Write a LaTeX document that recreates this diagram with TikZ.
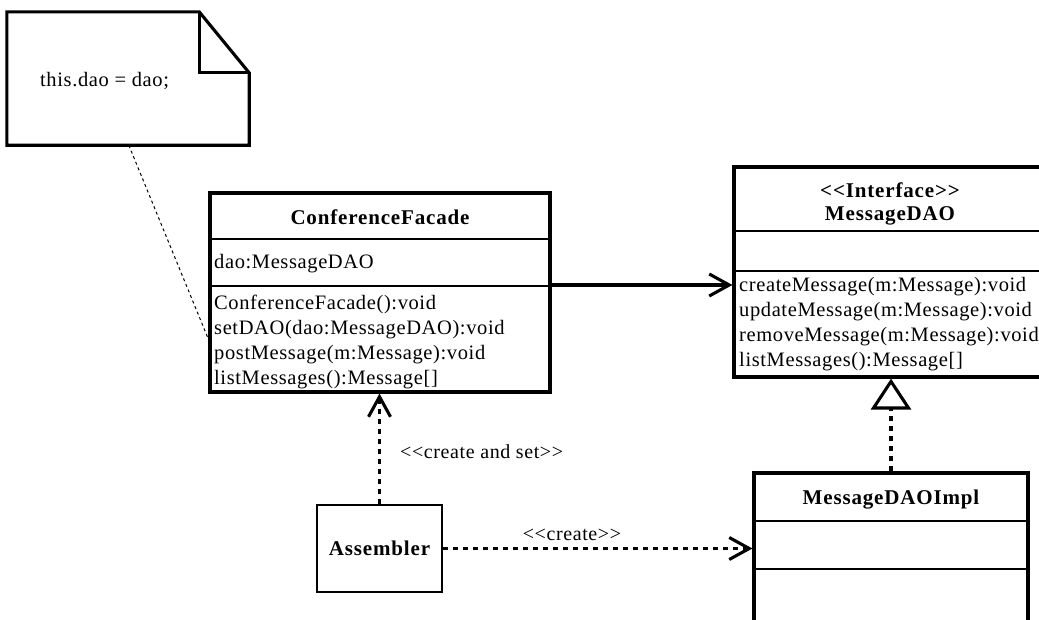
\documentclass[tikz,border=0pt]{standalone}
\usepackage{fontspec}
\setmainfont{Liberation Serif}
\newfontfamily\umlreg[LetterSpace=3]{Liberation Serif}
\newfontfamily\umlbf[LetterSpace=4]{Liberation Serif}
\usetikzlibrary{arrows.meta,calc}
\begin{document}
\begin{tikzpicture}[x=1pt,y=-1pt,
  box/.style={draw, line width=3.1pt, rectangle, inner sep=0pt},
  divider/.style={line width=2.8pt},
  txt/.style={inner sep=0pt, font=\umlreg\fontsize{20.5}{24.8}\selectfont, anchor=west, align=left},
  title/.style={inner sep=0pt, font=\umlbf\fontsize{21}{23}\selectfont\bfseries, align=center},
  lbl/.style={inner sep=0pt, font=\umlreg\fontsize{20}{22}\selectfont},
  dep/.style={line width=3.1pt, dash pattern=on 5pt off 5pt,
    -{Straight Barb[length=20pt,width=22pt,line width=3.1pt]}},
  assoc/.style={line width=3.1pt, -{Straight Barb[length=20pt,width=22pt,line width=3.1pt]}},
  real/.style={line width=3.1pt, dash pattern=on 5pt off 5pt,
    -{Triangle[open,length=31pt,width=40pt,line width=3.1pt]}},
  anchorline/.style={line width=1pt, dash pattern=on 3pt off 3pt},
  noteline/.style={line width=3.1pt, line join=miter}
]
\useasboundingbox (0,0) rectangle (1039,619);
\clip (0,0) rectangle (1039,619);

% note
\node[inner sep=0pt, minimum width=242pt, minimum height=133pt] (note) at (128,78.5) {};
\draw[noteline] (note.north west) -- ($(note.north east)+(-50,0)$) -- ($(note.north east)+(0,61)$)
  -- (note.south east) -- (note.south west) -- cycle;
\draw[noteline] ($(note.north east)+(-50,0)$) -- ($(note.north east)+(-50,61)$) -- ($(note.north east)+(0,61)$);
\node[txt] (notetext) at (40,81) {this.dao = dao;};

% ConferenceFacade
\node[box, minimum width=340pt, minimum height=199pt] (cf) at (380,292.5) {};
\draw[divider] (cf.west |- 0,239) -- (cf.east |- 0,239);
\draw[divider] (cf.west |- 0,286) -- (cf.east |- 0,286);
\node[title] (cfname) at (380,217) {ConferenceFacade};
\node[txt] (cfattr) at (214,264) {dao:MessageDAO};
\node[txt] (cfops) at (214,342) {ConferenceFacade():void\\setDAO(dao:MessageDAO):void\\postMessage(m:Message):void\\listMessages():Message[]};

% MessageDAO interface
\node[box, minimum width=311pt, minimum height=210pt] (intf) at (889.5,272) {};
\draw[divider] (intf.west |- 0,231) -- (intf.east |- 0,231);
\draw[divider] (intf.west |- 0,271) -- (intf.east |- 0,271);
\node[title] (intfname) at (890,203.5) {{<}{<}Interface{>}{>}\\MessageDAO};
\node[txt] (intfops) at (739,324) {createMessage(m:Message):void\\updateMessage(m:Message):void\\removeMessage(m:Message):void\\listMessages():Message[]};

% MessageDAOImpl
\node[box, minimum width=274pt, minimum height=170pt] (impl) at (891,558) {};
\draw[divider] (impl.west |- 0,521) -- (impl.east |- 0,521);
\draw[divider] (impl.west |- 0,569) -- (impl.east |- 0,569);
\node[title] (implname) at (891,500) {MessageDAOImpl};

% Assembler
\node[draw, line width=2.2pt, inner sep=0pt, minimum width=125pt, minimum height=87pt,
  font=\umlbf\fontsize{21}{24}\selectfont\bfseries] (asm) at (379.5,548.5) {Assembler};

% connectors
\coordinate (anchorend) at (210,343);
\draw[anchorline] ($(note.south west)+(122,0)$) -- (anchorend);
\draw[assoc] (cf.east |- 0,285) -- (intf.west |- 0,285);
\draw[real] (impl.north) -- (impl.north |- intf.south);
\draw[dep] (asm.north) -- (asm.north |- cf.south);
\draw[dep] (asm.east) -- (impl.west |- asm.east);
\node[lbl, anchor=west] (lcs) at (400,452) {{<}{<}create and set{>}{>}};
\node[lbl] (lc) at (572,535) {{<}{<}create{>}{>}};
\end{tikzpicture}
\end{document}
